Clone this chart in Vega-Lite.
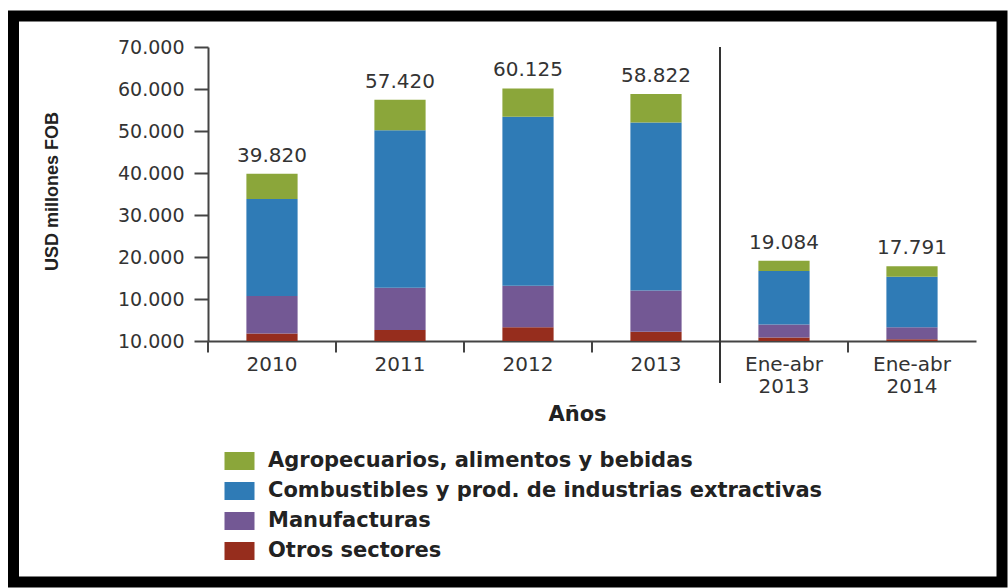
{
  "$schema": "https://vega.github.io/schema/vega-lite/v6.json",
  "autosize": {"type": "none"},
  "width": 988.5,
  "height": 566,
  "padding": {"left": 13.5, "top": 16, "right": 6, "bottom": 6},
  "background": "white",
  "config": {
    "view": {"stroke": "#000", "strokeWidth": 11},
    "locale": {"number": {"decimal": ",", "thousands": ".", "grouping": [3], "currency": ["$", ""]}}
  },
  "datasets": {
    "sectors": [
      {"periodo": "2010", "sector": "Otros sectores", "valor": 1800},
      {"periodo": "2010", "sector": "Manufacturas", "valor": 8900},
      {"periodo": "2010", "sector": "Combustibles y prod. de industrias extractivas", "valor": 23100},
      {"periodo": "2010", "sector": "Agropecuarios, alimentos y bebidas", "valor": 6020},
      {"periodo": "2011", "sector": "Otros sectores", "valor": 2600},
      {"periodo": "2011", "sector": "Manufacturas", "valor": 10100},
      {"periodo": "2011", "sector": "Combustibles y prod. de industrias extractivas", "valor": 37500},
      {"periodo": "2011", "sector": "Agropecuarios, alimentos y bebidas", "valor": 7220},
      {"periodo": "2012", "sector": "Otros sectores", "valor": 3250},
      {"periodo": "2012", "sector": "Manufacturas", "valor": 9900},
      {"periodo": "2012", "sector": "Combustibles y prod. de industrias extractivas", "valor": 40250},
      {"periodo": "2012", "sector": "Agropecuarios, alimentos y bebidas", "valor": 6725},
      {"periodo": "2013", "sector": "Otros sectores", "valor": 2200},
      {"periodo": "2013", "sector": "Manufacturas", "valor": 9800},
      {"periodo": "2013", "sector": "Combustibles y prod. de industrias extractivas", "valor": 40000},
      {"periodo": "2013", "sector": "Agropecuarios, alimentos y bebidas", "valor": 6822},
      {"periodo": "Ene-abr 2013", "sector": "Otros sectores", "valor": 850},
      {"periodo": "Ene-abr 2013", "sector": "Manufacturas", "valor": 3100},
      {"periodo": "Ene-abr 2013", "sector": "Combustibles y prod. de industrias extractivas", "valor": 12700},
      {"periodo": "Ene-abr 2013", "sector": "Agropecuarios, alimentos y bebidas", "valor": 2434},
      {"periodo": "Ene-abr 2014", "sector": "Otros sectores", "valor": 400},
      {"periodo": "Ene-abr 2014", "sector": "Manufacturas", "valor": 2850},
      {"periodo": "Ene-abr 2014", "sector": "Combustibles y prod. de industrias extractivas", "valor": 12050},
      {"periodo": "Ene-abr 2014", "sector": "Agropecuarios, alimentos y bebidas", "valor": 2491}
    ],
    "totals": [
      {"periodo": "2010", "total": 39820},
      {"periodo": "2011", "total": 57420},
      {"periodo": "2012", "total": 60125},
      {"periodo": "2013", "total": 58822},
      {"periodo": "Ene-abr 2013", "total": 19084},
      {"periodo": "Ene-abr 2014", "total": 17791}
    ],
    "divider": [
      {"periodo": "Ene-abr 2013", "top": 70000, "bottom": -10000}
    ]
  },
  "layer": [
    {
      "data": {"name": "sectors"},
      "mark": {"type": "bar", "width": {"band": 0.4}},
      "encoding": {
        "x": {
          "field": "periodo",
          "type": "nominal",
          "title": "Años",
          "scale": {
            "domain": ["2010", "2011", "2012", "2013", "Ene-abr 2013", "Ene-abr 2014"],
            "range": [194.5, 962.5],
            "paddingInner": 0,
            "paddingOuter": 0
          },
          "axis": {
            "bandPosition": 0,
            "offset": -241,
            "domainColor": "#444",
            "domainWidth": 2,
            "tickColor": "#444",
            "tickWidth": 2,
            "tickSize": 11,
            "labelPadding": 2,
            "labelAngle": 0,
            "labelFont": "DejaVu Sans",
            "labelFontSize": 20,
            "labelColor": "#333",
            "labelExpr": "split(datum.label, ' ')",
            "labelLineHeight": 22,
            "titleFont": "DejaVu Sans",
            "titleFontWeight": "bold",
            "titleFontSize": 21,
            "titleColor": "#222",
            "titleX": 563.5,
            "titleY": 62,
            "titleBaseline": "top"
          }
        },
        "y": {
          "field": "valor",
          "type": "quantitative",
          "stack": "zero",
          "title": "USD millones FOB",
          "scale": {"domain": [0, 70000], "range": [325, 31], "nice": false, "zero": false},
          "axis": {
            "values": [0, 10000, 20000, 30000, 40000, 50000, 60000, 70000],
            "format": ",d",
            "labelExpr": "datum.value == 0 ? '10.000' : datum.label",
            "grid": false,
            "offset": -194.5,
            "domainColor": "#444",
            "domainWidth": 2,
            "tickColor": "#444",
            "tickWidth": 2,
            "tickSize": 14,
            "labelPadding": 10,
            "labelFont": "DejaVu Sans",
            "labelFontSize": 19,
            "labelColor": "#333",
            "titleFont": "Liberation Sans",
            "titleFontWeight": "bold",
            "titleFontSize": 18,
            "titleColor": "#222",
            "titleX": -156,
            "titleY": 175,
            "titleAngle": -90,
            "titleAlign": "center",
            "titleBaseline": "middle"
          }
        },
        "color": {
          "field": "sector",
          "type": "nominal",
          "scale": {
            "domain": ["Agropecuarios, alimentos y bebidas", "Combustibles y prod. de industrias extractivas", "Manufacturas", "Otros sectores"],
            "range": ["#8BA63A", "#2F7BB6", "#735894", "#962D1D"]
          },
          "legend": {
            "title": null,
            "orient": "none",
            "legendX": 215.5,
            "legendY": 434.5,
            "direction": "vertical",
            "symbolType": "M-1.667,-1H1.667V1H-1.667Z",
            "symbolSize": 324,
            "symbolStrokeWidth": 0,
            "symbolOpacity": 1,
            "labelFont": "DejaVu Sans",
            "labelFontWeight": "bold",
            "labelFontSize": 21,
            "labelColor": "#222",
            "labelOffset": 18,
            "labelLimit": 900,
            "rowPadding": 8
          }
        },
        "order": {"field": "sector", "sort": "descending"}
      }
    },
    {
      "data": {"name": "totals"},
      "mark": {"type": "text", "font": "DejaVu Sans", "fontSize": 20, "color": "#333", "baseline": "alphabetic", "dy": -12},
      "encoding": {
        "x": {"field": "periodo", "type": "nominal", "title": "Años"},
        "y": {"field": "total", "type": "quantitative", "title": "USD millones FOB"},
        "text": {"field": "total", "type": "quantitative", "format": ",d"}
      }
    },
    {
      "data": {"name": "divider"},
      "mark": {"type": "rule", "color": "#333", "strokeWidth": 2},
      "encoding": {
        "x": {"field": "periodo", "type": "nominal", "bandPosition": 0, "title": "Años"},
        "y": {"field": "top", "type": "quantitative", "title": "USD millones FOB"},
        "y2": {"field": "bottom"}
      }
    }
  ]
}
